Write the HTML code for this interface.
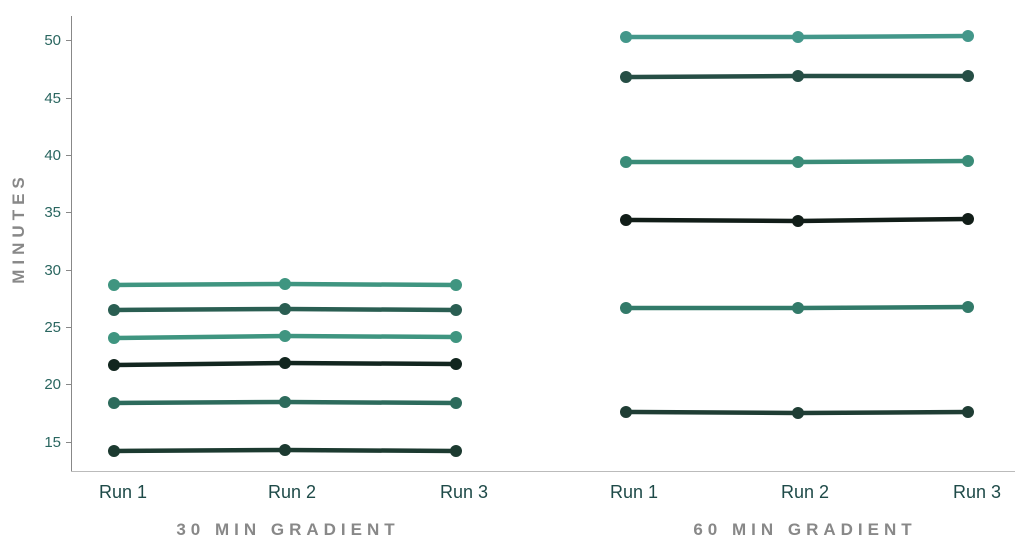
<!DOCTYPE html>
<html><head><style>body{margin:0;background:#fff}</style></head><body>
<svg width="1024" height="550" xmlns="http://www.w3.org/2000/svg" font-family="Liberation Sans, sans-serif">
<line x1="71.5" y1="16" x2="71.5" y2="471" stroke="#888" stroke-width="1"/>
<line x1="71" y1="471.5" x2="1015" y2="471.5" stroke="#bbb" stroke-width="1"/>
<g fill="#2a6660" font-size="15" text-anchor="end">
<text x="61" y="45">50</text><text x="61" y="103">45</text><text x="61" y="160">40</text><text x="61" y="217">35</text><text x="61" y="275">30</text><text x="61" y="332">25</text><text x="61" y="389">20</text><text x="61" y="447">15</text>
</g>
<g stroke="#888" stroke-width="1">
<line x1="66" y1="40.5" x2="71" y2="40.5"/><line x1="66" y1="98.5" x2="71" y2="98.5"/><line x1="66" y1="155.5" x2="71" y2="155.5"/><line x1="66" y1="212.5" x2="71" y2="212.5"/><line x1="66" y1="270.5" x2="71" y2="270.5"/><line x1="66" y1="327.5" x2="71" y2="327.5"/><line x1="66" y1="384.5" x2="71" y2="384.5"/><line x1="66" y1="442.5" x2="71" y2="442.5"/>
</g>
<text transform="translate(24,228) rotate(-90)" text-anchor="middle" fill="#888" font-size="17" font-weight="bold" letter-spacing="5">MINUTES</text>
<g stroke-width="4.5" fill="none">
<polyline points="114,285 285,284 456,285" stroke="#3f9580"/>
<polyline points="114,310 285,309 456,310" stroke="#2a5e52"/>
<polyline points="114,338 285,336 456,337" stroke="#3f9580"/>
<polyline points="114,365 285,363 456,364" stroke="#12261f"/>
<polyline points="114,403 285,402 456,403" stroke="#2d6b5c"/>
<polyline points="114,451 285,450 456,451" stroke="#1c3a30"/>
<polyline points="626,37 798,37 968,36" stroke="#43978a"/>
<polyline points="626,77 798,76 968,76" stroke="#264e45"/>
<polyline points="626,162 798,162 968,161" stroke="#3a8c78"/>
<polyline points="626,220 798,221 968,219" stroke="#111d18"/>
<polyline points="626,308 798,308 968,307" stroke="#327a69"/>
<polyline points="626,412 798,413 968,412" stroke="#1f3d34"/>
</g>
<g>
<g fill="#3f9580"><circle cx="114" cy="285" r="6"/><circle cx="285" cy="284" r="6"/><circle cx="456" cy="285" r="6"/></g>
<g fill="#2a5e52"><circle cx="114" cy="310" r="6"/><circle cx="285" cy="309" r="6"/><circle cx="456" cy="310" r="6"/></g>
<g fill="#3f9580"><circle cx="114" cy="338" r="6"/><circle cx="285" cy="336" r="6"/><circle cx="456" cy="337" r="6"/></g>
<g fill="#12261f"><circle cx="114" cy="365" r="6"/><circle cx="285" cy="363" r="6"/><circle cx="456" cy="364" r="6"/></g>
<g fill="#2d6b5c"><circle cx="114" cy="403" r="6"/><circle cx="285" cy="402" r="6"/><circle cx="456" cy="403" r="6"/></g>
<g fill="#1c3a30"><circle cx="114" cy="451" r="6"/><circle cx="285" cy="450" r="6"/><circle cx="456" cy="451" r="6"/></g>
<g fill="#43978a"><circle cx="626" cy="37" r="6"/><circle cx="798" cy="37" r="6"/><circle cx="968" cy="36" r="6"/></g>
<g fill="#264e45"><circle cx="626" cy="77" r="6"/><circle cx="798" cy="76" r="6"/><circle cx="968" cy="76" r="6"/></g>
<g fill="#3a8c78"><circle cx="626" cy="162" r="6"/><circle cx="798" cy="162" r="6"/><circle cx="968" cy="161" r="6"/></g>
<g fill="#111d18"><circle cx="626" cy="220" r="6"/><circle cx="798" cy="221" r="6"/><circle cx="968" cy="219" r="6"/></g>
<g fill="#327a69"><circle cx="626" cy="308" r="6"/><circle cx="798" cy="308" r="6"/><circle cx="968" cy="307" r="6"/></g>
<g fill="#1f3d34"><circle cx="626" cy="412" r="6"/><circle cx="798" cy="413" r="6"/><circle cx="968" cy="412" r="6"/></g>
</g>
<g fill="#1e4a48" font-size="18" text-anchor="middle">
<text x="123" y="498">Run 1</text><text x="292" y="498">Run 2</text><text x="464" y="498">Run 3</text>
<text x="634" y="498">Run 1</text><text x="805" y="498">Run 2</text><text x="977" y="498">Run 3</text>
</g>
<g fill="#888" font-size="17" font-weight="bold" letter-spacing="5" text-anchor="middle">
<text x="288" y="535">30 MIN GRADIENT</text>
<text x="805" y="535">60 MIN GRADIENT</text>
</g>
</svg>
</body></html>
